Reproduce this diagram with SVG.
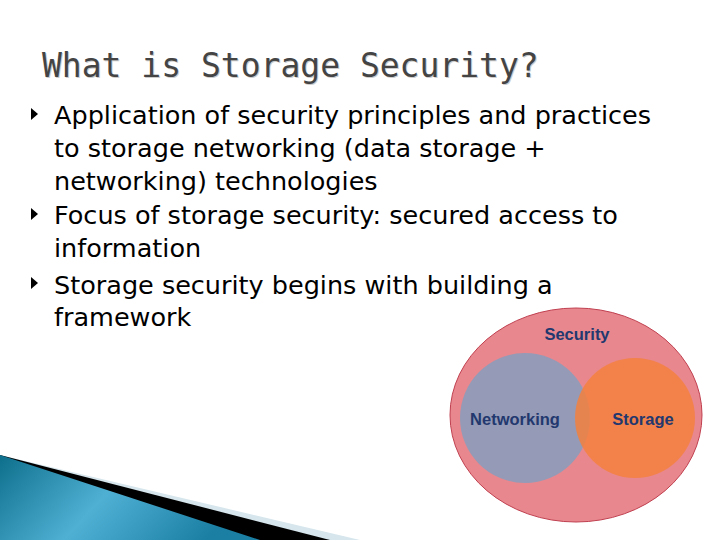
<svg xmlns="http://www.w3.org/2000/svg" width="720" height="540" viewBox="0 0 720 540">
<defs>
<style>
.t{font-family:"DejaVu Sans",sans-serif;font-size:25.5px;fill:#000}
.v{font-family:"Liberation Sans",Arial,sans-serif;font-size:16.5px;font-weight:bold;fill:#22386e}
</style>
<linearGradient id="g" x1="0" y1="0" x2="1" y2="0.3">
<stop offset="0" stop-color="#0e6f8c"/><stop offset="0.5" stop-color="#4fb0d4"/><stop offset="1" stop-color="#1a7fa3"/>
</linearGradient>
</defs>
<rect width="720" height="540" fill="#fff"/>
<g id="decor">
<polygon points="0,455 360,540 0,540" fill="#d6e6ec"/>
<polygon points="0,455 330,540 0,540" fill="#000"/>
<polygon points="0,455 260,540 0,540" fill="url(#g)"/>
</g>
<text x="43" y="78" style="font-family:'DejaVu Sans Mono',monospace;font-size:33px;fill:#ccc">What is Storage Security?</text>
<text x="42" y="77" style="font-family:'DejaVu Sans Mono',monospace;font-size:33px;fill:#444">What is Storage Security?</text>
<g fill="#000">
<polygon points="31,108 38,114 31,120"/>
<polygon points="31,208 38,214 31,220"/>
<polygon points="31,277 38,283 31,289"/>
</g>
<text class="t" x="54" y="124">Application of security principles and practices</text>
<text class="t" x="54" y="157">to storage networking (data storage +</text>
<text class="t" x="54" y="190">networking) technologies</text>
<text class="t" x="54" y="224">Focus of storage security: secured access to</text>
<text class="t" x="54" y="257">information</text>
<text class="t" x="54" y="294">Storage security begins with building a</text>
<text class="t" x="54" y="326">framework</text>
<g id="security"><ellipse cx="576" cy="415" rx="126" ry="107" fill="#e8888e" stroke="#c04050" stroke-width="1"/>
<text class="v" x="577" y="340" text-anchor="middle">Security</text></g>
<g id="networking"><circle cx="525" cy="418" r="65" fill="#7f9fc0" fill-opacity="0.8"/>
<text class="v" x="515" y="425" text-anchor="middle">Networking</text></g>
<g id="storage"><circle cx="635" cy="418" r="60" fill="#f5803e" fill-opacity="0.85"/>
<text class="v" x="643" y="425" text-anchor="middle">Storage</text></g>
<g id="connectors"/>
</svg>
